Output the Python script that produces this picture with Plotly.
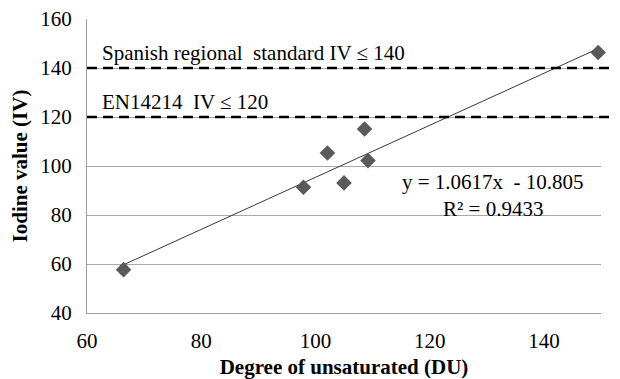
import plotly.graph_objects as go

du = [66.4, 97.9, 102.1, 105.0, 108.6, 109.2, 149.5]
iv = [57.7, 91.3, 105.3, 93.1, 115.1, 102.2, 146.3]
slope, intercept = 1.0617, -10.805
trend_x = [min(du), max(du)]
trend_y = [slope * v + intercept for v in trend_x]
limits = [140, 120]
limit_labels = ["Spanish regional  standard IV ≤ 140", "EN14214  IV ≤ 120"]
x_ticks = [60, 80, 100, 120, 140]
y_ticks = [40, 60, 80, 100, 120, 140, 160]

FONT = "Liberation Serif, Times New Roman, serif"

fig = go.Figure()
fig.add_trace(go.Scatter(x=trend_x, y=trend_y, mode="lines",
                         line=dict(color="#3a3a3a", width=1), showlegend=False, hoverinfo="skip"))
fig.add_trace(go.Scatter(x=du, y=iv, mode="markers", cliponaxis=False,
                         marker=dict(symbol="diamond", size=12, color="#5a5a5a"),
                         showlegend=False))

for lim, lab in zip(limits, limit_labels):
    fig.add_shape(type="line", xref="paper", yref="y", x0=0, x1=1.027, y0=lim, y1=lim,
                  line=dict(color="black", width=2.5, dash="10px,6px"), layer="above")
    fig.add_annotation(x=0.025, xref="paper", y=lim, yref="y", text=lab, showarrow=False,
                       xanchor="left", yanchor="bottom", yshift=1,
                       font=dict(family=FONT, size=21, color="black"))

fig.add_annotation(x=131.1, y=93.6, text="y = 1.0617x  - 10.805", showarrow=False,
                   font=dict(family=FONT, size=21, color="black"))
fig.add_annotation(x=131.1, y=82.6, text="R² = 0.9433", showarrow=False,
                   font=dict(family=FONT, size=21, color="black"))

fig.update_layout(
    width=620, height=379,
    margin=dict(l=87, r=19, t=19, b=66),
    paper_bgcolor="white", plot_bgcolor="white",
    font=dict(family=FONT, size=21, color="black"),
    xaxis=dict(range=[60, 150], tickvals=x_ticks, showgrid=False, zeroline=False,
               showline=True, linecolor="#a0a0a0", linewidth=1, ticks="",
               ticklabelstandoff=9, automargin=False,
               title=dict(text="<b>Degree of unsaturated (DU)</b>", standoff=13,
                          font=dict(family=FONT, size=21))),
    yaxis=dict(range=[40, 160], tickvals=y_ticks, showgrid=True, gridcolor="#a8a8a8",
               gridwidth=1, zeroline=False, showline=True, linecolor="#a0a0a0",
               linewidth=1, ticks="", ticklabelstandoff=10, automargin=False,
               title=dict(text="<b>Iodine value (IV)</b>", standoff=6,
                          font=dict(family=FONT, size=21))),
)
fig.write_html("out.html")
